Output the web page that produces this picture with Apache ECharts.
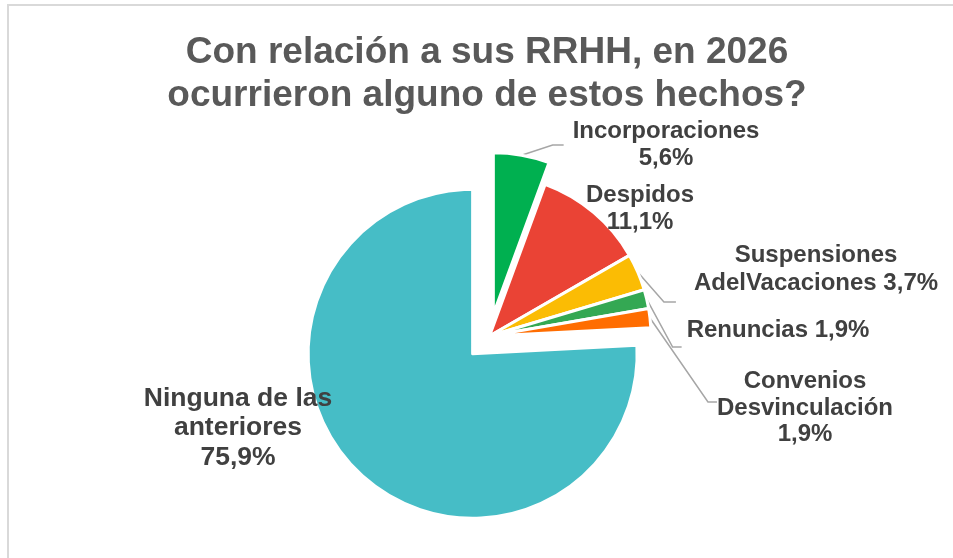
<!DOCTYPE html>
<html>
<head>
<meta charset="utf-8">
<script src="https://cdn.jsdelivr.net/npm/echarts@6/dist/echarts.min.js"></script>
<style>
	html, body { margin: 0; padding: 0; background: #fff; overflow: hidden; }
	#main { position: absolute; left: 0; top: 0; width: 953px; height: 558px; }
	#frame { position: absolute; left: 7px; top: 4px; width: 1000px; height: 600px;
		border-left: 2px solid #d9d9d9; border-top: 2px solid #d9d9d9; }
</style>
</head>
<body>
<div id="frame"></div>
<div id="main"></div>
<script>
// datos
var categories = ['Incorporaciones', 'Despidos', 'Suspensiones AdelVacaciones', 'Renuncias', 'Convenios Desvinculación', 'Ninguna de las anteriores'];
var labelNames = ['Incorporaciones\n', 'Despidos\n', 'Suspensiones\nAdelVacaciones ', 'Renuncias ', 'Convenios\nDesvinculación\n', 'Ninguna de las\nanteriores\n'];
var values = [5.6, 11.1, 3.7, 1.9, 1.9, 75.9];
var colors = ['#00b050', '#ea4335', '#fbbc04', '#34a853', '#ff6d01', '#46bdc6'];
var explode = [22, 0, 0, 0, 0, 24.5];

// estilo / posicion de etiquetas (centro) y lineas guia
var radii = [161.5, 161.5, 161.5, 161.5, 161.5, 164.5];
var labelSize = [24, 24, 24, 24, 24, 26.5];
var labelLH = [27, 27, 28, 28, 26.5, 29.5];
var labelPos = [[666, 145], [640, 209], [816, 269], [778, 330], [805, 408], [238, 428]];
var guides = [
	{ gap: 9, dy: 0, knee: 11 },
	null,
	{ gap: 18, dy: 33, knee: 12 },
	{ gap: 5, dy: 17, knee: 9 },
	{ gap: 0, dy: -6, knee: 9 },
	null
];

var cx = 489.5, cy = 336;

var myChart = echarts.init(document.getElementById('main'));

var total = 0;
for (var i = 0; i < values.length; i++) total += values[i];

// una serie por porcion, asi cada una puede separarse sola
var series = [];
var cum = 0;
for (var k = 0; k < values.length; k++) {
	var mid = (cum + values[k] / 2) / total * Math.PI * 2;
	cum += values[k];
	var ox = explode[k] * Math.sin(mid);
	var oy = -explode[k] * Math.cos(mid);
	var data = [];
	for (var j = 0; j < values.length; j++) {
		var own = j == k;
		data.push({
			name : categories[j],
			value : values[j],
			itemStyle : own ? { color : colors[j], borderColor : '#fff', borderWidth : 3 }
				: { color : 'rgba(0,0,0,0)', borderWidth : 0 },
			label : { show : own, fontSize : labelSize[j], lineHeight : labelLH[j] },
			labelLine : { show : own && guides[j] != null }
		});
	}
	series.push({
		type : 'pie',
		center : [ cx + ox, cy + oy ],
		radius : radii[k],
		startAngle : 90,
		clockwise : true,
		silent : true,
		avoidLabelOverlap : false,
		emphasis : { disabled : true },
		label : {
			position : 'outside',
			fontFamily : 'Liberation Sans',
			fontSize : 24,
			fontWeight : 'bold',
			color : '#404040',
			lineHeight : 28,
			align : 'center',
			formatter : function(p) {
				return labelNames[p.dataIndex] + p.value.toFixed(1).replace('.', ',') + '%';
			}
		},
		labelLine : {
			lineStyle : { color : '#a6a6a6', width : 1.5 }
		},
		labelLayout : function(params) {
			var i = params.dataIndex;
			var pos = labelPos[i];
			var out = { x : pos[0], y : pos[1], align : 'center', verticalAlign : 'middle' };
			var g = guides[i];
			if (g && params.labelLinePoints) {
				var start = params.labelLinePoints[0];
				var left = pos[0] - params.labelRect.width / 2;
				var end = [ left - g.gap, pos[1] + g.dy ];
				var knee = [ end[0] - g.knee, end[1] ];
				out.labelLinePoints = [ start, knee, end ];
			}
			return out;
		},
		data : data
	});
}

var option = {
	animation : false,
	title : {
		text : 'Con relación a sus RRHH, en 2026\nocurrieron alguno de estos hechos?',
		left : 482,
		top : 26,
		textAlign : 'center',
		textStyle : {
			fontFamily : 'Liberation Sans',
			fontSize : 37,
			fontWeight : 'bold',
			color : '#595959',
			lineHeight : 43
		}
	},
	series : series
};
myChart.setOption(option);
</script>
</body>
</html>
